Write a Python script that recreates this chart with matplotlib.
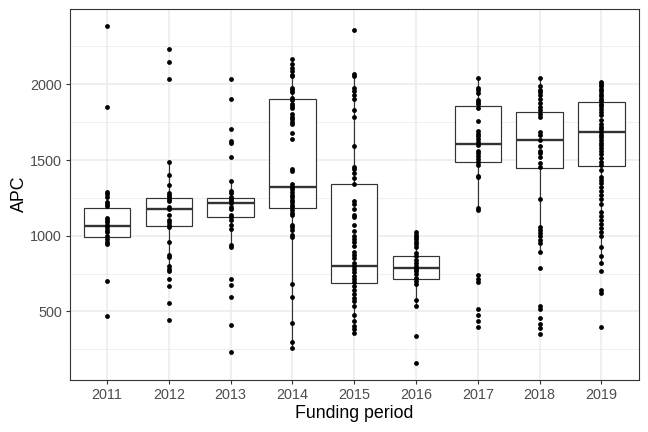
import matplotlib
matplotlib.use('Agg')
import matplotlib.pyplot as plt
from matplotlib.ticker import FixedLocator

plt.rcParams['font.family'] = ['Liberation Sans', 'DejaVu Sans']

years = ['2011', '2012', '2013', '2014', '2015', '2016', '2017', '2018', '2019']

# APC values per funding period
apc_2011 = [2386, 1851, 1292, 1274, 1259, 1226, 1211, 1197, 1116, 1101, 1088, 1072,
            1055, 1040, 1024, 996, 978, 960, 945, 704, 469]
apc_2012 = [2230, 2145, 2037, 1485, 1404, 1333, 1285, 1270, 1254, 1241, 1228, 1189,
            1175, 1138, 1105, 1088, 1070, 1057, 958, 875, 857, 798, 781, 765, 717,
            671, 553, 443]
apc_2013 = [2037, 1906, 1704, 1627, 1610, 1520, 1362, 1296, 1281, 1259, 1241, 1228,
            1213, 1193, 1175, 1138, 1123, 1105, 1070, 1042, 936, 928, 715, 673, 597,
            408, 235]
apc_2014 = [2167, 2136, 2107, 2088, 2064, 2057, 1978, 1965, 1950, 1912, 1899, 1873,
            1860, 1846, 1803, 1785, 1768, 1752, 1737, 1680, 1640, 1443, 1425, 1340,
            1325, 1307, 1289, 1272, 1254, 1237, 1224, 1204, 1189, 1171, 1153, 1138,
            1072, 1055, 1040, 1007, 991, 682, 594, 425, 300, 261]
apc_2015 = [2357, 2066, 2055, 1974, 1956, 1932, 1904, 1829, 1783, 1594, 1456, 1439,
            1412, 1384, 1344, 1228, 1211, 1175, 1138, 1123, 1070, 1031, 996, 978, 956,
            930, 895, 875, 855, 820, 798, 781, 759, 737, 715, 693, 667, 640, 614, 590,
            566, 539, 474, 436, 404, 382, 355]
apc_2016 = [1024, 1007, 991, 978, 960, 943, 926, 886, 868, 842, 820, 798, 781, 765,
            750, 721, 699, 684, 579, 535, 338, 162]
apc_2017 = [2042, 1978, 1961, 1943, 1899, 1884, 1868, 1846, 1759, 1693, 1675, 1658,
            1640, 1621, 1601, 1559, 1544, 1529, 1509, 1485, 1467, 1395, 1386, 1186,
            1171, 743, 715, 693, 518, 474, 436, 397]
apc_2018 = [2042, 1987, 1965, 1947, 1928, 1906, 1877, 1851, 1829, 1803, 1785, 1686,
            1664, 1632, 1592, 1561, 1544, 1522, 1483, 1452, 1243, 1061, 1040, 1018,
            996, 975, 953, 891, 787, 539, 518, 458, 414, 393, 349]
apc_2019 = [2015, 2000, 1987, 1972, 1956, 1939, 1921, 1906, 1890, 1873, 1855, 1838,
            1818, 1796, 1763, 1737, 1719, 1702, 1684, 1667, 1649, 1632, 1614, 1597,
            1579, 1561, 1539, 1511, 1489, 1467, 1434, 1390, 1368, 1347, 1325, 1298,
            1270, 1241, 1211, 1160, 1132, 1105, 1079, 1050, 1022, 996, 926, 864, 820,
            765, 645, 623, 397]
apc = [apc_2011, apc_2012, apc_2013, apc_2014, apc_2015, apc_2016, apc_2017, apc_2018, apc_2019]

# box statistics as drawn in the picture
q1 = [991, 1066, 1123, 1182, 686, 715, 1485, 1445, 1458]
med = [1064, 1175, 1215, 1325, 803, 785, 1603, 1632, 1684]
q3 = [1180, 1248, 1248, 1904, 1344, 864, 1857, 1820, 1882]
whislo = [945, 798, 936, 261, 355, 535, 1171, 891, 820]
whishi = [1292, 1485, 1362, 2167, 2066, 1024, 2042, 2042, 2015]

fig = plt.figure(figsize=(6.48, 4.32), dpi=100)
ax = fig.add_axes([70 / 648, 1 - 379.5 / 432, 568.5 / 648, 370.5 / 432])

stats = []
for i in range(len(years)):
    stats.append({'q1': q1[i], 'med': med[i], 'q3': q3[i],
                  'whislo': whislo[i], 'whishi': whishi[i], 'fliers': []})

line_col = '#333333'
ax.bxp(stats, positions=range(len(years)), widths=0.75, showcaps=False,
       showfliers=False, patch_artist=True,
       boxprops=dict(facecolor='white', edgecolor=line_col, linewidth=0.85),
       medianprops=dict(color=line_col, linewidth=1.7),
       whiskerprops=dict(color=line_col, linewidth=0.85), zorder=2)

for i, vals in enumerate(apc):
    ax.scatter([i] * len(vals), vals, s=12, color='black', linewidths=0, zorder=3)

allv = [v for vals in apc for v in vals]
lo, hi = min(allv), max(allv)
r = hi - lo
ax.set_ylim(lo - 0.05 * r, hi + 0.05 * r)
ax.set_xlim(-0.6, len(years) - 0.4)

ax.set_xticks(range(len(years)))
ax.set_xticklabels(years)
ax.yaxis.set_major_locator(FixedLocator([500, 1000, 1500, 2000]))
ax.yaxis.set_minor_locator(FixedLocator([250, 750, 1250, 1750, 2250]))

ax.set_axisbelow(True)
ax.grid(True, which='major', color='#EBEBEB', linewidth=1.1)
ax.grid(True, which='minor', axis='y', color='#EBEBEB', linewidth=0.55)
ax.tick_params(which='major', length=3.2, width=0.8, color=line_col,
               labelsize=10.4, labelcolor='#4D4D4D', pad=2.6)
ax.tick_params(which='minor', length=0)
for s in ax.spines.values():
    s.set_color(line_col)
    s.set_linewidth(0.8)

ax.set_xlabel('Funding period', fontsize=12.8, labelpad=2.5)
ax.set_ylabel('APC', fontsize=12.8, labelpad=1.5)

fig.savefig('out.png', dpi=100)
